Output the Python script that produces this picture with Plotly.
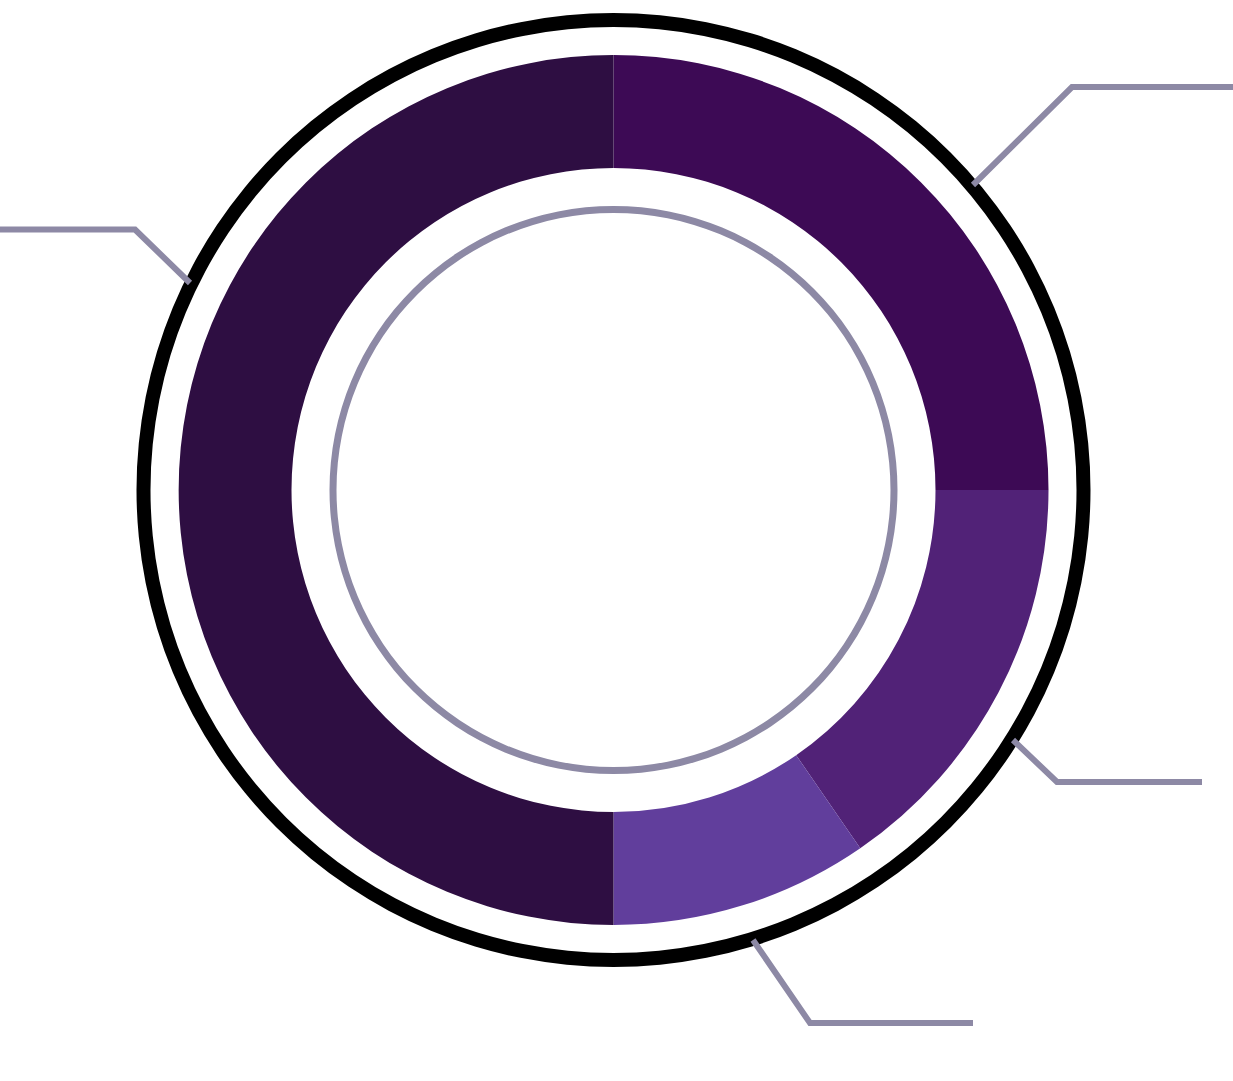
import plotly.graph_objects as go

# ---- data ----
labels = ["A", "B", "C", "D"]
values = [25.0, 15.4, 9.6, 50.0]
colors = ["#3D0A55", "#512277", "#613E9C", "#2E0E42"]

# ---- layout constants (pixels) ----
W, H = 1233, 1081
CX, CY = 613.5, 490
R_OUT, R_IN = 435, 322
BLACK_R, BLACK_W = 470, 14
GRAY_R, GRAY_W = 280.5, 7
GRAY = "#8D89A5"
leaders = [
    [(973, 185), (1072, 87), (1233, 87)],
    [(190, 283), (135, 229.5), (0, 229.5)],
    [(1013, 740), (1057, 782), (1202, 782)],
    [(753, 940), (810, 1023), (973, 1023)],
]


def px(x):
    return x / W


def py(y):
    return 1 - y / H


def dom(r):
    return dict(x=[px(CX - r), px(CX + r)], y=[py(CY + r), py(CY - r)])


fig = go.Figure()
fig.add_trace(go.Pie(
    labels=labels,
    values=values,
    marker=dict(colors=colors, line=dict(width=0)),
    hole=R_IN / R_OUT,
    sort=False,
    direction="clockwise",
    rotation=0,
    textinfo="none",
    hoverinfo="label+percent",
    showlegend=False,
    domain=dom(R_OUT),
))

# decorative rings drawn as single-slice pies (smooth, antialiased)
for r, w, c in [(BLACK_R, BLACK_W, "black"), (GRAY_R, GRAY_W, GRAY)]:
    ro, ri = r + w / 2, r - w / 2
    fig.add_trace(go.Pie(
        values=[1], labels=["ring"],
        marker=dict(colors=[c], line=dict(width=0)),
        hole=ri / ro, sort=False, textinfo="none", hoverinfo="skip",
        showlegend=False, domain=dom(ro),
    ))

# leader lines drawn above the rings
shapes = []
for pts in leaders:
    path = "M " + " L ".join(f"{px(x)},{py(y)}" for x, y in pts)
    shapes.append(dict(type="path", xref="paper", yref="paper", path=path,
                       line=dict(color=GRAY, width=6), layer="above"))

fig.update_layout(
    width=W, height=H,
    margin=dict(l=0, r=0, t=0, b=0),
    paper_bgcolor="white",
    plot_bgcolor="white",
    shapes=shapes,
    showlegend=False,
)

fig.write_html("out.html")
